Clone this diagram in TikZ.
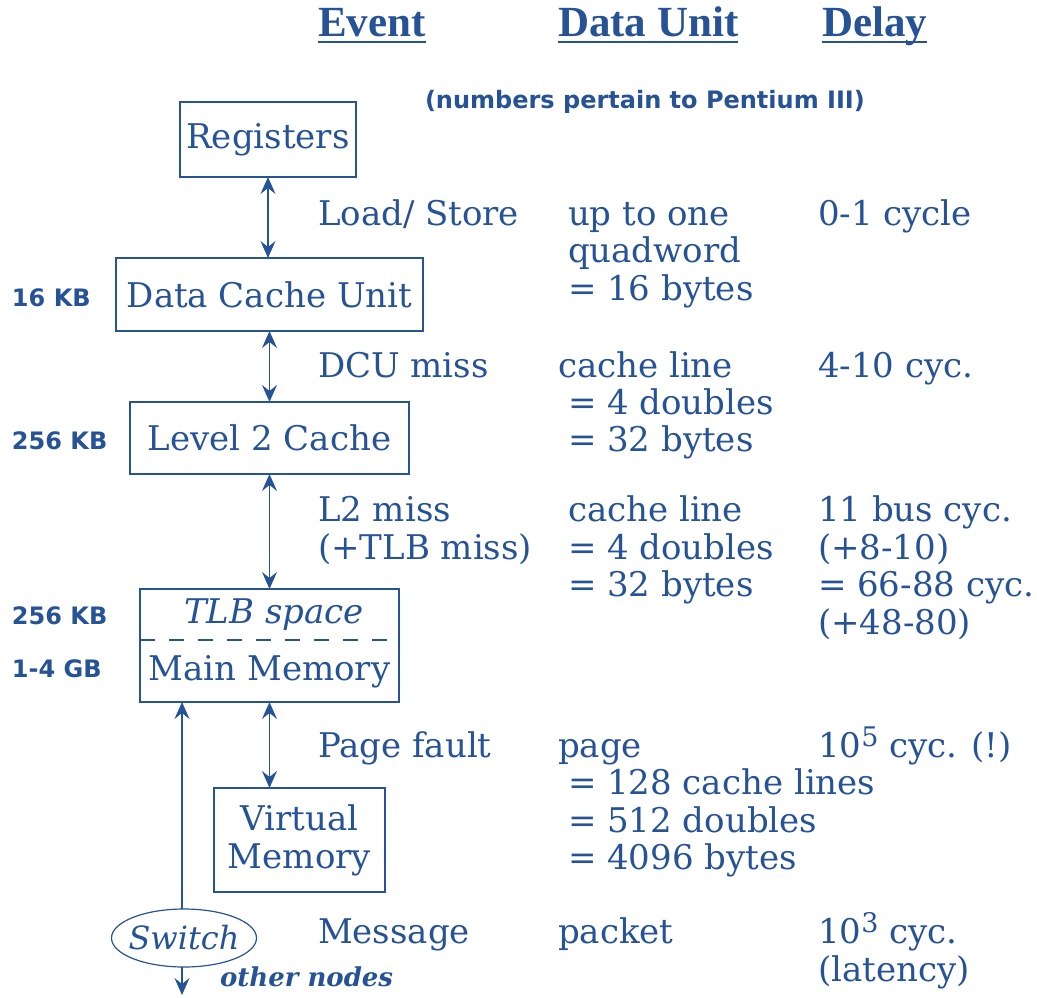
\documentclass[tikz,border=0pt]{standalone}
\usepackage{fontspec}
\setmainfont{DejaVu Serif}
\newfontfamily\hdrfont{Liberation Serif}
\newfontfamily\labfont{DejaVu Sans}
\usetikzlibrary{arrows.meta,shapes.geometric}
\definecolor{ink}{RGB}{38,82,150}
\newcommand{\sups}[1]{\raisebox{11pt}{\fontsize{27}{30}\selectfont #1}}
\begin{document}
\begin{tikzpicture}[x=1pt,y=-1pt,
  every node/.style={inner sep=0pt,outer sep=0pt,text=ink},
  box/.style={draw=ink,line width=1.5pt,align=center,font=\fontsize{34}{38}\selectfont},
  txt/.style={anchor=base west,font=\fontsize{34}{38}\selectfont},
  hdr/.style={anchor=base west,font=\hdrfont\bfseries\fontsize{43}{46}\selectfont},
  lab/.style={anchor=base west,font=\labfont\bfseries\fontsize{24}{28}\selectfont},
  link/.style={draw=ink,line width=1.6pt},
  arr/.style={link,{Stealth[length=17pt,width=15pt,inset=6pt]}-{Stealth[length=17pt,width=15pt,inset=6pt]}},
  uarr/.style={link,-{Stealth[length=17pt,width=15pt,inset=6pt]}}]
\useasboundingbox (0,0) rectangle (1037,997);
% headers
\node[hdr] (hev) at (318,36) {Event};
\node[hdr] (hdu) at (558,36) {Data Unit};
\node[hdr] (hde) at (822,36) {Delay};
\foreach \h in {hev,hdu,hde}{\draw[ink,line width=2.2pt] ([yshift=-6pt]\h.base west) -- ([yshift=-6pt]\h.base east);}
\node[lab] (note) at (425,108) {(numbers pertain to Pentium III)};
% boxes
\node[box,minimum width=176pt,minimum height=75pt] (reg) at (268,139.5) {Registers};
\node[box,minimum width=307pt,minimum height=73pt] (dcu) at (269.5,294.5) {Data Cache Unit};
\node[box,minimum width=279pt,minimum height=72pt] (l2) at (269.5,438) {Level 2 Cache};
\node[box,minimum width=259pt,minimum height=113pt] (mm) at (269.5,645.5) {};
\node[txt,anchor=base,font=\itshape\fontsize{34}{38}\selectfont] (tlb) at (274,623) {TLB space};
\node[txt,anchor=base] (mmt) at (269.5,680) {Main Memory};
\draw[ink,line width=1.5pt,dash pattern=on 15pt off 14pt] (mm.west |- 0,640) -- (mm.east |- 0,640);
\node[box,minimum width=171pt,minimum height=104pt] (vm) at (299.5,840) {Virtual\\Memory};
\node[draw=ink,line width=1.2pt,ellipse,minimum width=145pt,minimum height=58pt,font=\itshape\fontsize{32}{34}\selectfont] (sw) at (184,938) {\makebox[0pt]{Switch}};
\node[anchor=base west,font=\bfseries\itshape\fontsize{26}{28}\selectfont] (oth) at (220,986) {other nodes};
\coordinate (out) at (182,995);
% connectors
\draw[arr] (reg.south) -- (reg.south |- dcu.north);
\draw[arr] (dcu.south) -- (dcu.south |- l2.north);
\draw[arr] (l2.south) -- (l2.south |- mm.north);
\draw[arr] (mm.south) -- (mm.south |- vm.north);
\draw[uarr] (sw.north -| out) -- (out |- mm.south);
\draw[uarr] (sw.south -| out) -- (out);
% left labels
\node[lab] (k1) at (12,306) {16 KB};
\node[lab] (k2) at (12,449) {256 KB};
\node[lab] (k3) at (12,624) {256 KB};
\node[lab] (k4) at (12,677) {1-4 GB};
% row 1
\node[txt] (e1) at (318,225) {Load/ Store};
\node[txt] (u1a) at (568,225) {up to one};
\node[txt] (u1b) at (568,262) {quadword};
\node[txt] (u1c) at (568,300) {= 16 bytes};
\node[txt] (d1) at (818,225) {0-1 cycle};
% row 2
\node[txt] (e2) at (318,377) {DCU miss};
\node[txt] (u2a) at (558,377) {cache line};
\node[txt] (u2b) at (568,414) {= 4 doubles};
\node[txt] (u2c) at (568,451) {= 32 bytes};
\node[txt] (d2) at (818,377) {4-10 cyc.};
% row 3
\node[txt] (e3a) at (318,521) {L2 miss};
\node[txt] (e3b) at (318,559) {(+TLB miss)};
\node[txt] (u3a) at (568,521) {cache line};
\node[txt] (u3b) at (568,559) {= 4 doubles};
\node[txt] (u3c) at (568,596) {= 32 bytes};
\node[txt] (d3a) at (818,521) {11 bus cyc.};
\node[txt] (d3b) at (818,559) {(+8-10)};
\node[txt] (d3c) at (818,596) {= 66-88 cyc.};
\node[txt] (d3d) at (818,634) {(+48-80)};
% row 4
\node[txt] (e4) at (318,757) {Page fault};
\node[txt] (u4a) at (558,757) {page};
\node[txt] (u4b) at (568,794) {= 128 cache lines};
\node[txt] (u4c) at (568,832) {= 512 doubles};
\node[txt] (u4d) at (568,869) {= 4096 bytes};
\node[txt] (d4) at (818,757) {10\sups{5} cyc. (!)};
% row 5
\node[txt] (e5) at (318,943) {Message};
\node[txt] (u5) at (558,943) {packet};
\node[txt] (d5a) at (818,943) {10\sups{3} cyc.};
\node[txt] (d5b) at (818,981) {(latency)};
\end{tikzpicture}
\end{document}
